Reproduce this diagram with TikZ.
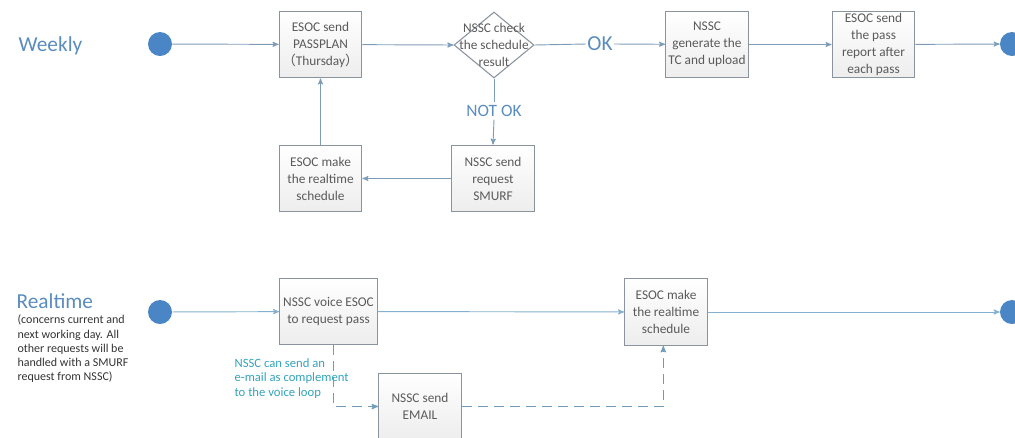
\documentclass[tikz,border=0pt]{standalone}
\usepackage{fontspec}
\setmainfont{Carlito}
\newfontfamily\cjk{Noto Sans CJK SC}
\usetikzlibrary{arrows,shapes.geometric}
\definecolor{titleblue}{HTML}{5B8CBF}
\definecolor{dotblue}{HTML}{4A86C5}
\definecolor{boxgray}{HTML}{8A949E}
\definecolor{boxtext}{HTML}{5A5A5A}
\definecolor{flowline}{HTML}{7E9CB8}
\definecolor{rtline}{HTML}{86B0CF}
\definecolor{noteteal}{HTML}{33A3BE}
\definecolor{dashline}{HTML}{6F9CBA}

\begin{document}
\begin{tikzpicture}[x=0.75pt,y=-0.75pt]
\tikzstyle{every node}=[inner sep=1pt, text=boxtext, font=\fontsize{10}{12.75}\selectfont]
\tikzstyle{task}=[draw=boxgray, line width=0.8pt, top color=white, bottom color=black!7, minimum width=62pt, minimum height=50pt, align=center]
\tikzstyle{decision}=[diamond, draw=boxgray, line width=0.8pt, fill=white, minimum width=60pt, minimum height=49.5pt, inner sep=0pt]
\tikzstyle{dot}=[circle, fill=dotblue, minimum size=18pt, inner sep=0pt]
\tikzstyle{flow}=[draw=flowline, line width=0.7pt, ->, >=stealth']
\tikzstyle{rtflow}=[draw=rtline, line width=0.7pt, ->, >=stealth']
\tikzstyle{mailflow}=[draw=dashline, line width=0.8pt, dash pattern=on 7.5pt off 4.5pt, ->, >=stealth']
\tikzstyle{caselabel}=[text=titleblue, font=\fontsize{16}{18}\selectfont, anchor=west]
\clip (0,0) rectangle (1015,437);

% weekly
\draw (17,46) node (weekly) [caselabel] {Weekly};
\draw (160,44) node (startW) [dot] {};
\draw (320.5,44.5) node (pass) [task] {ESOC send\\PASSPLAN\\{\cjk （}Thursday{\cjk ）}};
\draw (494,45) node (check) [decision, label={[align=center]center:NSSC check\\the schedule\\result}] {};
\draw (600,44) node (ok) [text=titleblue, font=\fontsize{16}{18}\selectfont] {OK};
\draw (707,44.5) node (gen) [task] {NSSC\\generate the\\TC and upload};
\draw (873.5,44.5) node (report) [task] {ESOC send\\the pass\\report after\\each pass};
\draw (1012,44) node (endW) [dot] {};
\draw (494,111) node (notok) [inner sep=2pt, text=titleblue, font=\fontsize{13}{15}\selectfont] {NOT OK};
\draw (493,178.5) node (smurf) [task] {NSSC send\\request\\SMURF};
\draw (320.5,178.5) node (make) [task] {ESOC make\\the realtime\\schedule};
\draw[flow] (startW) -- (pass);
\draw[flow] (pass) -- (check.west);
\draw[flowline, line width=0.7pt] (check.east) -- (ok.west);
\draw[flow] (ok.east) -- (gen);
\draw[flow] (gen) -- (report);
\draw[flow] (report) -- (endW);
\draw[flowline, line width=0.7pt] (check.south) -- (notok.north);
\draw[flow] (notok.south) -- (smurf.north);
\draw[flow] (smurf) -- (make);
\draw[flow] (make) -- (pass);

% realtime
\draw (15,301) node (realtime) [caselabel] {Realtime};
\draw (16,349) node (scope) [anchor=west, align=left, text=black!80, font=\fontsize{9}{10.7}\selectfont] {(concerns current and\\next working day. All\\other requests will be\\handled with a SMURF\\request from NSSC)};
\draw (160,312) node (startR) [dot] {};
\draw (328.5,311.5) node (voice) [task, minimum width=73pt] {NSSC voice ESOC\\to request pass};
\draw (666,312) node (make2) [task] {ESOC make\\the realtime\\schedule};
\draw (1012,312) node (endR) [dot] {};
\draw (420,406.5) node (email) [task] {NSSC send\\EMAIL};
\draw (233,378.5) node (mailnote) [anchor=west, align=left, text=noteteal, font=\fontsize{9.5}{11}\selectfont] {NSSC can send an\\e-mail as complement\\to the voice loop};
\draw[rtflow] (startR) -- (voice);
\draw[rtflow] (voice) -- (make2);
\draw[rtflow] (make2) -- (endR);
\draw[mailflow] ([xshift=3.5pt]voice.south) |- (email.west);
\draw[mailflow] (email.east) -| ([xshift=-2pt]make2.south);
\end{tikzpicture}
\end{document}
